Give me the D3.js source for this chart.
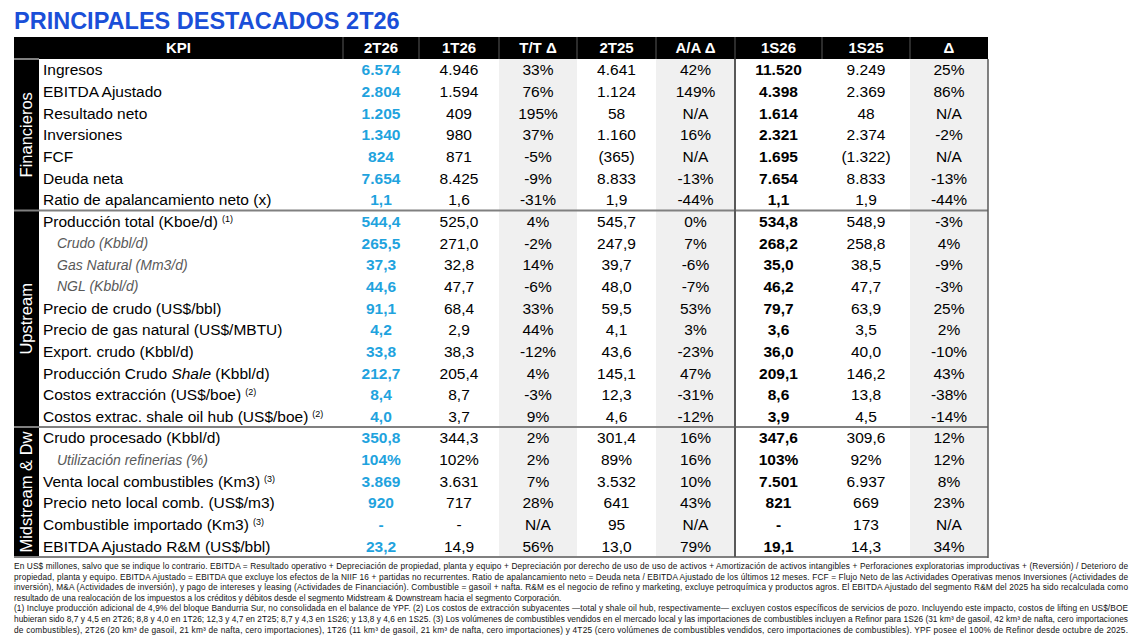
<!DOCTYPE html>
<html>
<head>
<meta charset="utf-8">
<script src="https://cdn.jsdelivr.net/npm/d3@7"></script>
<style>
  html, body { margin: 0; padding: 0; background: #fff; }
  svg { display: block; font-family: "Liberation Sans", Arial, sans-serif; }
</style>
</head>
<body>
<svg width="1140" height="643"></svg>
<script>
// data
const title = "PRINCIPALES DESTACADOS 2T26";
const columnHeaders = ["2T26", "1T26", "T/T Δ", "2T25", "A/A Δ", "1S26", "1S25", "Δ"];
const sectionNames = ["Financieros", "Upstream", "Midstream & Dw"];
const sectionSizes = [7, 10, 6];

const kpiLabels = [
  "Ingresos", "EBITDA Ajustado", "Resultado neto", "Inversiones", "FCF", "Deuda neta",
  "Ratio de apalancamiento neto (x)",
  "Producción total (Kboe/d)", "Crudo (Kbbl/d)", "Gas Natural (Mm3/d)", "NGL (Kbbl/d)",
  "Precio de crudo (US$/bbl)", "Precio de gas natural (US$/MBTU)", "Export. crudo (Kbbl/d)",
  "Producción Crudo Shale (Kbbl/d)", "Costos extracción (US$/boe)", "Costos extrac. shale oil hub (US$/boe)",
  "Crudo procesado (Kbbl/d)", "Utilización refinerias (%)", "Venta local combustibles (Km3)",
  "Precio neto local comb. (US$/m3)", "Combustible importado (Km3)", "EBITDA Ajustado R&M (US$/bbl)"
];
const labelNotes = ["", "", "", "", "", "", "", "(1)", "", "", "", "", "", "", "", "(2)", "(2)", "", "", "(3)", "", "(3)", ""];
const subItems = ["Crudo (Kbbl/d)", "Gas Natural (Mm3/d)", "NGL (Kbbl/d)", "Utilización refinerias (%)"];

const q2_26 = ["6.574", "2.804", "1.205", "1.340", "824", "7.654", "1,1", "544,4", "265,5", "37,3", "44,6", "91,1", "4,2", "33,8", "212,7", "8,4", "4,0", "350,8", "104%", "3.869", "920", "-", "23,2"];
const q1_26 = ["4.946", "1.594", "409", "980", "871", "8.425", "1,6", "525,0", "271,0", "32,8", "47,7", "68,4", "2,9", "38,3", "205,4", "8,7", "3,7", "344,3", "102%", "3.631", "717", "-", "14,9"];
const qoq = ["33%", "76%", "195%", "37%", "-5%", "-9%", "-31%", "4%", "-2%", "14%", "-6%", "33%", "44%", "-12%", "4%", "-3%", "9%", "2%", "2%", "7%", "28%", "N/A", "56%"];
const q2_25 = ["4.641", "1.124", "58", "1.160", "(365)", "8.833", "1,9", "545,7", "247,9", "39,7", "48,0", "59,5", "4,1", "43,6", "145,1", "12,3", "4,6", "301,4", "89%", "3.532", "641", "95", "13,0"];
const yoy = ["42%", "149%", "N/A", "16%", "N/A", "-13%", "-44%", "0%", "7%", "-6%", "-7%", "53%", "3%", "-23%", "47%", "-31%", "-12%", "16%", "16%", "10%", "43%", "N/A", "79%"];
const h1_26 = ["11.520", "4.398", "1.614", "2.321", "1.695", "7.654", "1,1", "534,8", "268,2", "35,0", "46,2", "79,7", "3,6", "36,0", "209,1", "8,6", "3,9", "347,6", "103%", "7.501", "821", "-", "19,1"];
const h1_25 = ["9.249", "2.369", "48", "2.374", "(1.322)", "8.833", "1,9", "548,9", "258,8", "38,5", "47,7", "63,9", "3,5", "40,0", "146,2", "13,8", "4,5", "309,6", "92%", "6.937", "669", "173", "14,3"];
const hDelta = ["25%", "86%", "N/A", "-2%", "N/A", "-13%", "-44%", "-3%", "4%", "-9%", "-3%", "25%", "2%", "-10%", "43%", "-38%", "-14%", "12%", "12%", "8%", "23%", "N/A", "34%"];

const footnotes = [
  "En US$ millones, salvo que se indique lo contrario. EBITDA = Resultado operativo + Depreciación de propiedad, planta y equipo + Depreciación por derecho de uso de uso de activos + Amortización de activos intangibles + Perforaciones exploratorias improductivas + (Reversión) / Deterioro de",
  "propiedad, planta y equipo. EBITDA Ajustado = EBITDA que excluye los efectos de la NIIF 16 + partidas no recurrentes. Ratio de apalancamiento neto = Deuda neta / EBITDA Ajustado de los últimos 12 meses. FCF = Flujo Neto de las Actividades Operativas menos Inversiones (Actividades de",
  "inversión), M&A (Actividades de inversión), y pago de intereses y leasing (Actividades de Financiación). Combustible = gasoil + nafta. R&M es el negocio de refino y marketing, excluye petroquímica y productos agros. El EBITDA Ajustado del segmento R&M del 2025 ha sido recalculada como",
  "resultado de una realocación de los impuestos a los créditos y débitos desde el segmento Midstream & Downstream hacia el segmento Corporación.",
  "(1) Incluye producción adicional de 4,9% del bloque Bandurria Sur, no consolidada en el balance de YPF. (2) Los costos de extracción subyacentes —total y shale oil hub, respectivamente— excluyen costos específicos de servicios de pozo. Incluyendo este impacto, costos de lifting en US$/BOE",
  "hubieran sido 8,7 y 4,5 en 2T26; 8,8 y 4,0 en 1T26; 12,3 y 4,7 en 2T25; 8,7 y 4,3 en 1S26; y 13,8 y 4,6 en 1S25. (3) Los volúmenes de combustibles vendidos en el mercado local y las importaciones de combustibles incluyen a Refinor para 1S26 (31 km³ de gasoil, 42 km³ de nafta, cero importaciones",
  "de combustibles), 2T26 (20 km³ de gasoil, 21 km³ de nafta, cero importaciones), 1T26 (11 km³ de gasoil, 21 km³ de nafta, cero importaciones) y 4T25 (cero volúmenes de combustibles vendidos, cero importaciones de combustibles). YPF posee el 100% de Refinor desde octubre de 2025."
];

const columns = [q2_26, q1_26, qoq, q2_25, yoy, h1_26, h1_25, hDelta];

// layout
const tableLeft = 14, sideRight = 39, kpiRight = 343, tableRight = 988;
const headTop = 37, headBottom = 59, bodyBottom = 557;
const colWidths = [76, 80, 78, 79, 79, 87, 88, 78];
const colEdges = [kpiRight, ...d3.cumsum(colWidths).map(w => kpiRight + w)];
const shaded = [2, 4, 7];

const svg = d3.select("svg");

const x = d3.scaleOrdinal().domain(d3.range(columnHeaders.length)).range(colEdges.slice(0, -1));
const colW = i => colEdges[i + 1] - colEdges[i];

const y = d3.scaleBand()
  .domain(d3.range(kpiLabels.length))
  .range([headBottom, bodyBottom])
  .padding(0);

// title
svg.append("text")
  .attr("x", tableLeft)
  .attr("y", 29)
  .attr("font-size", 23.5)
  .attr("font-weight", "bold")
  .attr("fill", "#1a4fd8")
  .text(title);

// header
svg.append("rect")
  .attr("x", tableLeft).attr("y", headTop)
  .attr("width", tableRight - tableLeft).attr("height", headBottom - headTop)
  .attr("fill", "#000");

svg.append("g").selectAll("line")
  .data(colEdges.slice(0, -1))
  .join("line")
  .attr("x1", d => d).attr("x2", d => d)
  .attr("y1", headTop).attr("y2", headBottom)
  .attr("stroke", "#595959").attr("stroke-width", 1);

const headText = svg.append("g")
  .attr("font-size", 15).attr("font-weight", "bold").attr("fill", "#fff")
  .attr("text-anchor", "middle");

headText.append("text")
  .attr("x", (tableLeft + kpiRight) / 2)
  .attr("y", (headTop + headBottom) / 2).attr("dy", "0.35em")
  .text("KPI");

headText.selectAll("text.col")
  .data(columnHeaders)
  .join("text").attr("class", "col")
  .attr("x", (d, i) => x(i) + colW(i) / 2)
  .attr("y", (headTop + headBottom) / 2).attr("dy", "0.35em")
  .text(d => d);

// shaded delta columns
svg.append("g").selectAll("rect")
  .data(shaded)
  .join("rect")
  .attr("x", d => x(d)).attr("y", headBottom)
  .attr("width", d => colW(d)).attr("height", bodyBottom - headBottom)
  .attr("fill", "#f0f0f0");

// section side bands
const sectionStarts = [0, ...d3.cumsum(sectionSizes)];
const sections = sectionNames.map((name, i) => ({
  name,
  y0: y(sectionStarts[i]),
  y1: sectionStarts[i + 1] < kpiLabels.length ? y(sectionStarts[i + 1]) : bodyBottom
}));

svg.append("g").selectAll("rect")
  .data(sections)
  .join("rect")
  .attr("x", tableLeft).attr("y", d => d.y0)
  .attr("width", sideRight - tableLeft).attr("height", d => d.y1 - d.y0)
  .attr("fill", "#000");

svg.append("g").selectAll("text")
  .data(sections)
  .join("text")
  .attr("transform", d => `translate(${(tableLeft + sideRight) / 2},${(d.y0 + d.y1) / 2}) rotate(-90)`)
  .attr("dy", "0.36em")
  .attr("text-anchor", "middle")
  .attr("font-size", 16.5)
  .attr("fill", "#fff")
  .text(d => d.name);

// separators
svg.append("g").selectAll("line")
  .data(sections.map(d => d.y0).concat([bodyBottom]))
  .join("line")
  .attr("x1", tableLeft).attr("x2", (d, i) => i === 0 ? sideRight : tableRight)
  .attr("y1", d => d).attr("y2", d => d)
  .attr("stroke", "#808080").attr("stroke-width", 2);

svg.append("line")
  .attr("x1", x(5)).attr("x2", x(5))
  .attr("y1", headBottom).attr("y2", bodyBottom)
  .attr("stroke", "#595959").attr("stroke-width", 2);

svg.append("line")
  .attr("x1", tableRight).attr("x2", tableRight)
  .attr("y1", headBottom).attr("y2", bodyBottom + 1)
  .attr("stroke", "#595959").attr("stroke-width", 1.5);

// KPI labels
const labels = svg.append("g").selectAll("text")
  .data(kpiLabels)
  .join("text")
  .attr("x", d => subItems.includes(d) ? 57 : 43)
  .attr("y", (d, i) => y(i) + y.bandwidth() / 2)
  .attr("dy", "0.36em")
  .attr("font-size", d => subItems.includes(d) ? 14 : 15.5)
  .attr("font-style", d => subItems.includes(d) ? "italic" : null)
  .attr("fill", d => subItems.includes(d) ? "#595959" : "#000");

labels.each(function(d, i) {
  const t = d3.select(this);
  d.split(/(Shale)/).forEach(p => {
    if (!p) return;
    t.append("tspan").attr("font-style", p === "Shale" ? "italic" : null).text(p);
  });
  if (labelNotes[i]) {
    t.append("tspan").attr("dx", 4).attr("dy", -5).attr("font-size", 9).text(labelNotes[i]);
  }
});

// values
columns.forEach((vals, c) => {
  svg.append("g").selectAll("text")
    .data(vals)
    .join("text")
    .attr("x", x(c) + colW(c) / 2)
    .attr("y", (d, i) => y(i) + y.bandwidth() / 2)
    .attr("dy", "0.36em")
    .attr("text-anchor", "middle")
    .attr("font-size", 15.5)
    .attr("font-weight", c === 0 || c === 5 ? "bold" : null)
    .attr("fill", c === 0 ? "#1fa3de" : "#000")
    .text(d => d);
});

// footnotes
svg.append("g").selectAll("text")
  .data(footnotes)
  .join("text")
  .attr("x", tableLeft)
  .attr("y", (d, i) => 569 + i * 10.6)
  .attr("font-size", 8.3)
  .attr("fill", "#111")
  .attr("textLength", (d, i) => i === 3 ? null : 1114)
  .attr("lengthAdjust", "spacing")
  .text(d => d);
</script>
</body>
</html>
